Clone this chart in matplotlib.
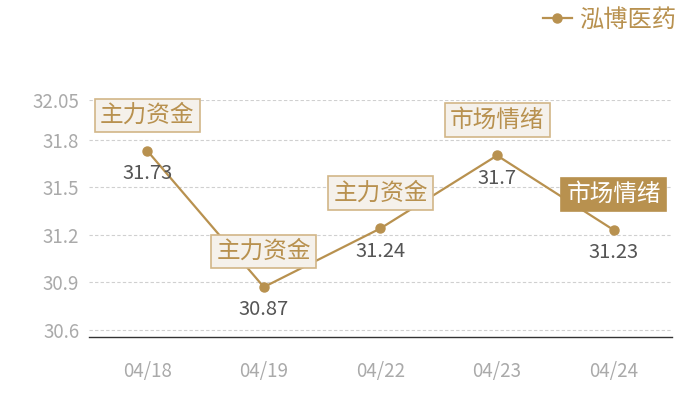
import matplotlib
matplotlib.use("Agg")
import matplotlib.pyplot as plt

plt.rcParams['font.family'] = ['Noto Sans CJK SC', 'DejaVu Sans']

dates = ["04/18", "04/19", "04/22", "04/23", "04/24"]
values = [31.73, 30.87, 31.24, 31.70, 31.23]
value_labels = ["31.73", "30.87", "31.24", "31.7", "31.23"]
tags = ["主力资金", "主力资金", "主力资金", "市场情绪", "市场情绪"]
yticks = [30.6, 30.9, 31.2, 31.5, 31.8, 32.05]
series_name = "泓博医药"

GOLD = "#b8914f"
fig = plt.figure(figsize=(7, 4), dpi=100)
ax = fig.add_axes([0.127, 0.1575, 0.833, 0.5925])

x = list(range(len(dates)))
ax.plot(x, values, color=GOLD, lw=1.6, marker='o', ms=6.5, zorder=3, label=series_name)

ax.set_xlim(-0.5, len(dates) - 0.5)
ax.set_ylim(30.555, 32.05)
ax.set_yticks(yticks)
ax.set_yticklabels([f"{v:g}" for v in yticks])
ax.set_xticks(x)
ax.set_xticklabels(dates)
ax.tick_params(axis='both', length=0, labelcolor="#aaaaaa", labelsize=13.5)
ax.tick_params(axis='x', pad=17)
ax.tick_params(axis='y', pad=7)
ax.grid(axis='y', color="#d0d0d0", ls=(0, (3, 2)), lw=0.8)
for s in ['top', 'right', 'left']:
    ax.spines[s].set_visible(False)
ax.spines['bottom'].set_color("#333333")
ax.spines['bottom'].set_linewidth(1.0)

for i, (v, lab, tag) in enumerate(zip(values, value_labels, tags)):
    ax.annotate(lab, (i, v), xytext=(0, -16.5), textcoords='offset points',
                ha='center', va='center', fontsize=14.5, color="#555555", zorder=4)
    hl = (i == len(values) - 1)
    ax.annotate(tag, (i, v), xytext=(0, 25.5), textcoords='offset points',
                ha='center', va='center', fontsize=17,
                color="white" if hl else GOLD, zorder=5,
                bbox=dict(boxstyle='square,pad=0.22',
                          fc=GOLD if hl else "#f5f1eb",
                          ec=GOLD if hl else "#d2b688", lw=1.2))

leg = fig.legend(loc='upper right', bbox_to_anchor=(0.987, 1.02), frameon=False,
                 fontsize=17.5, handlelength=1.2, handletextpad=0.3,
                 borderaxespad=0.2)
for t in leg.get_texts():
    t.set_color(GOLD)

fig.savefig("out.png", dpi=100)
